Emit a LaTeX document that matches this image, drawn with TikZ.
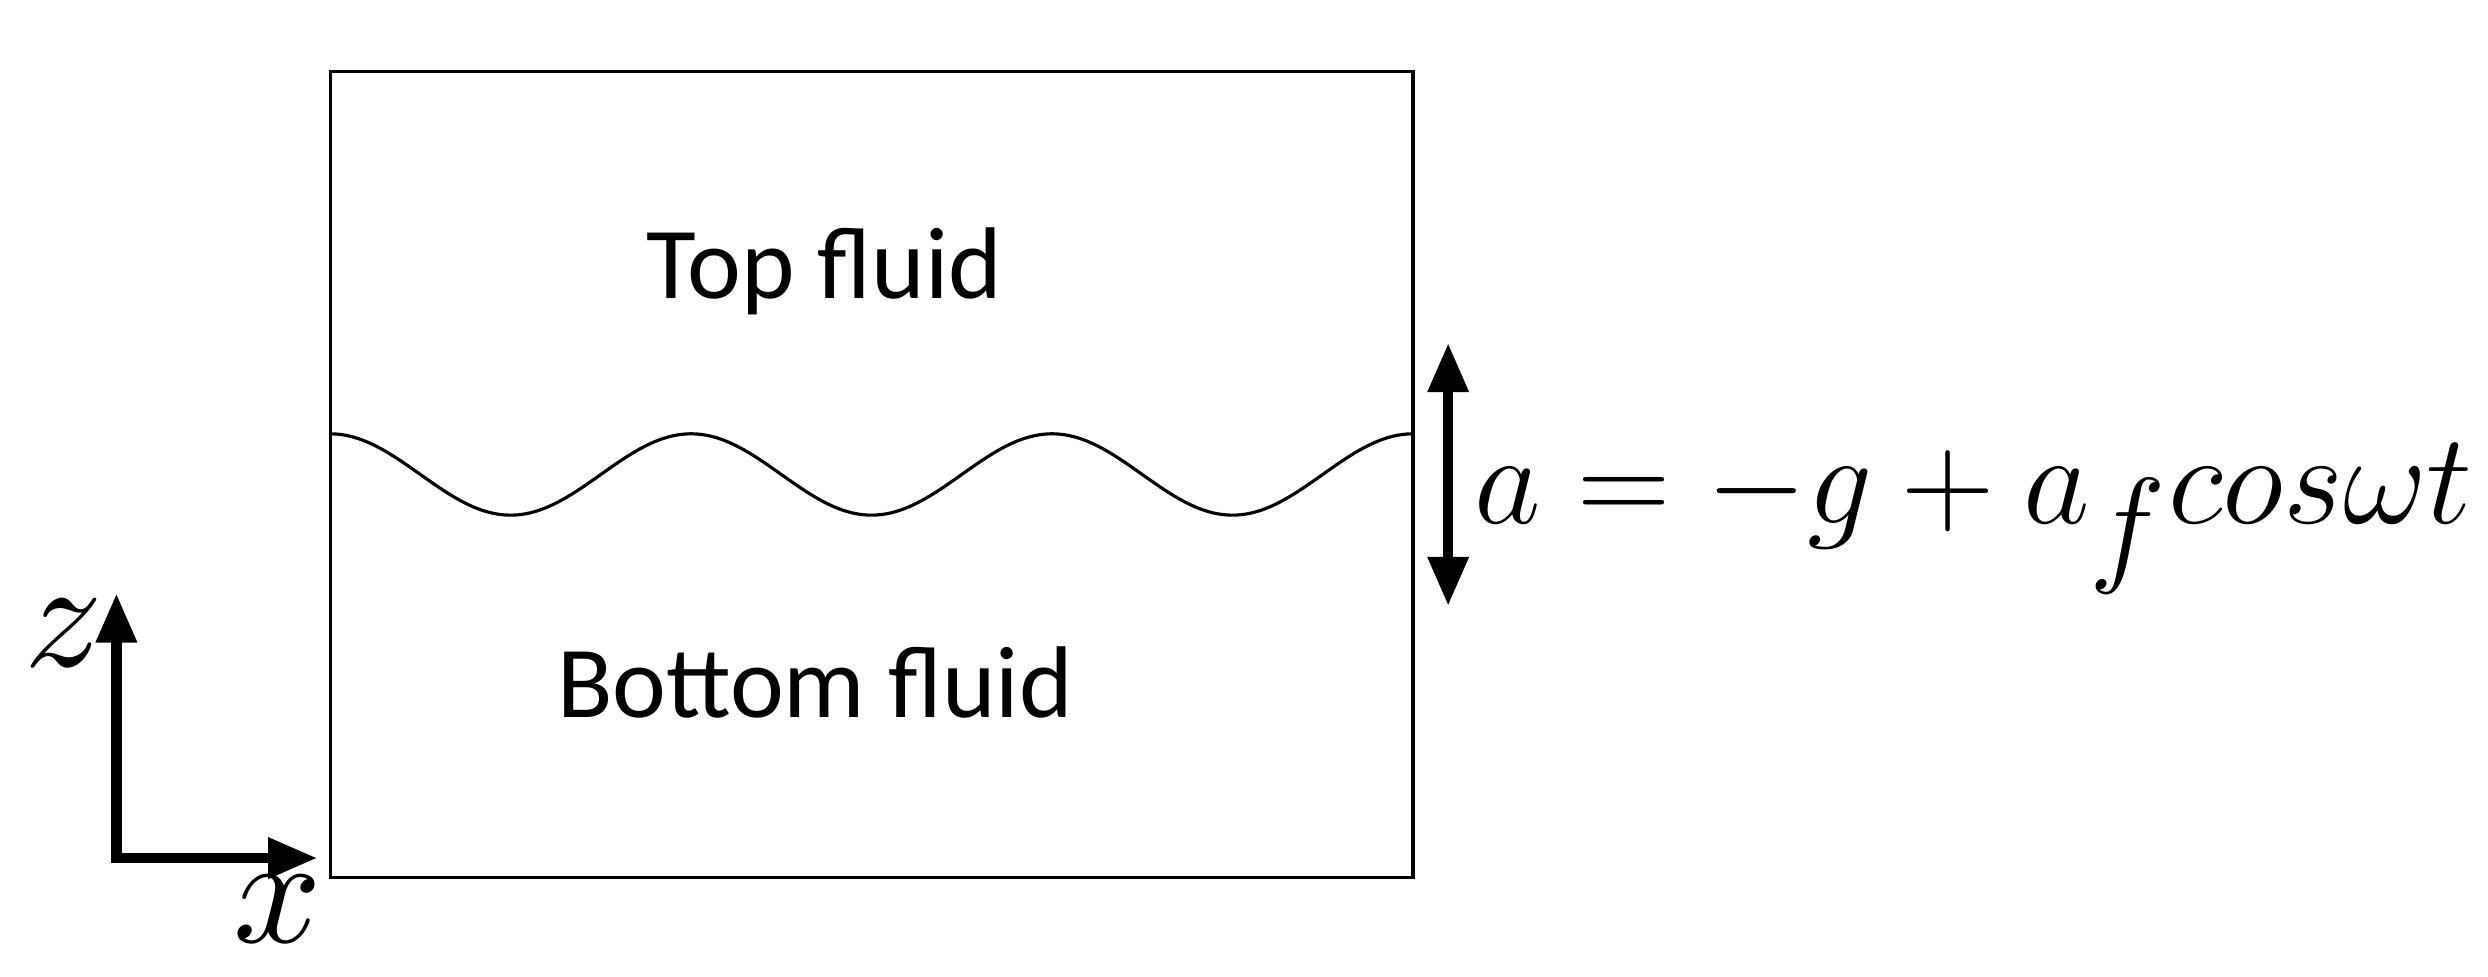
\documentclass[tikz,border=0pt]{standalone}
\usepackage{fontspec}
\setmainfont{Carlito}
\usetikzlibrary{arrows.meta}
\begin{document}
\begin{tikzpicture}[x=0.01595cm,y=-0.01595cm,
  lbl/.style={inner sep=0pt,font=\fontsize{29}{34}\selectfont},
  ax/.style={line width=3pt,-{Triangle[length=14pt,width=11pt]}}]
\useasboundingbox (0,0) rectangle (1560,612);
\draw[line width=0.9pt] (207,45) rectangle (886,550);
\draw[line width=0.9pt,domain=207:886,samples=200,smooth] plot (\x,{297.5-25.5*cos(1.59081*(\x-207))});
\node[lbl] (top) at (517,170) {Top fluid};
\node[lbl] (bot) at (511,428) {Bottom fluid};
\coordinate (au) at (908,215);
\coordinate (ad) at (908,380);
\draw[line width=3pt,{Triangle[length=14pt,width=11pt]}-{Triangle[length=14pt,width=11pt]}] (au) -- (ad);
\node[anchor=base west,inner sep=0pt,scale=1.48] (eq) at (924,328) {\fontsize{44}{50}\selectfont$a=-g+a_f cos\omega t$};
\coordinate (o) at (73,538);
\coordinate (zt) at (73,372);
\coordinate (xt) at (199,538);
\draw[ax] (o) -- (zt);
\draw[ax,shorten <=-1.5pt] (o) -- (xt);
\node[inner sep=0pt,scale=4.4] (zl) at (40,397) {$z$};
\node[inner sep=0pt,scale=4.4] (xl) at (174,570) {$x$};
\end{tikzpicture}
\end{document}
